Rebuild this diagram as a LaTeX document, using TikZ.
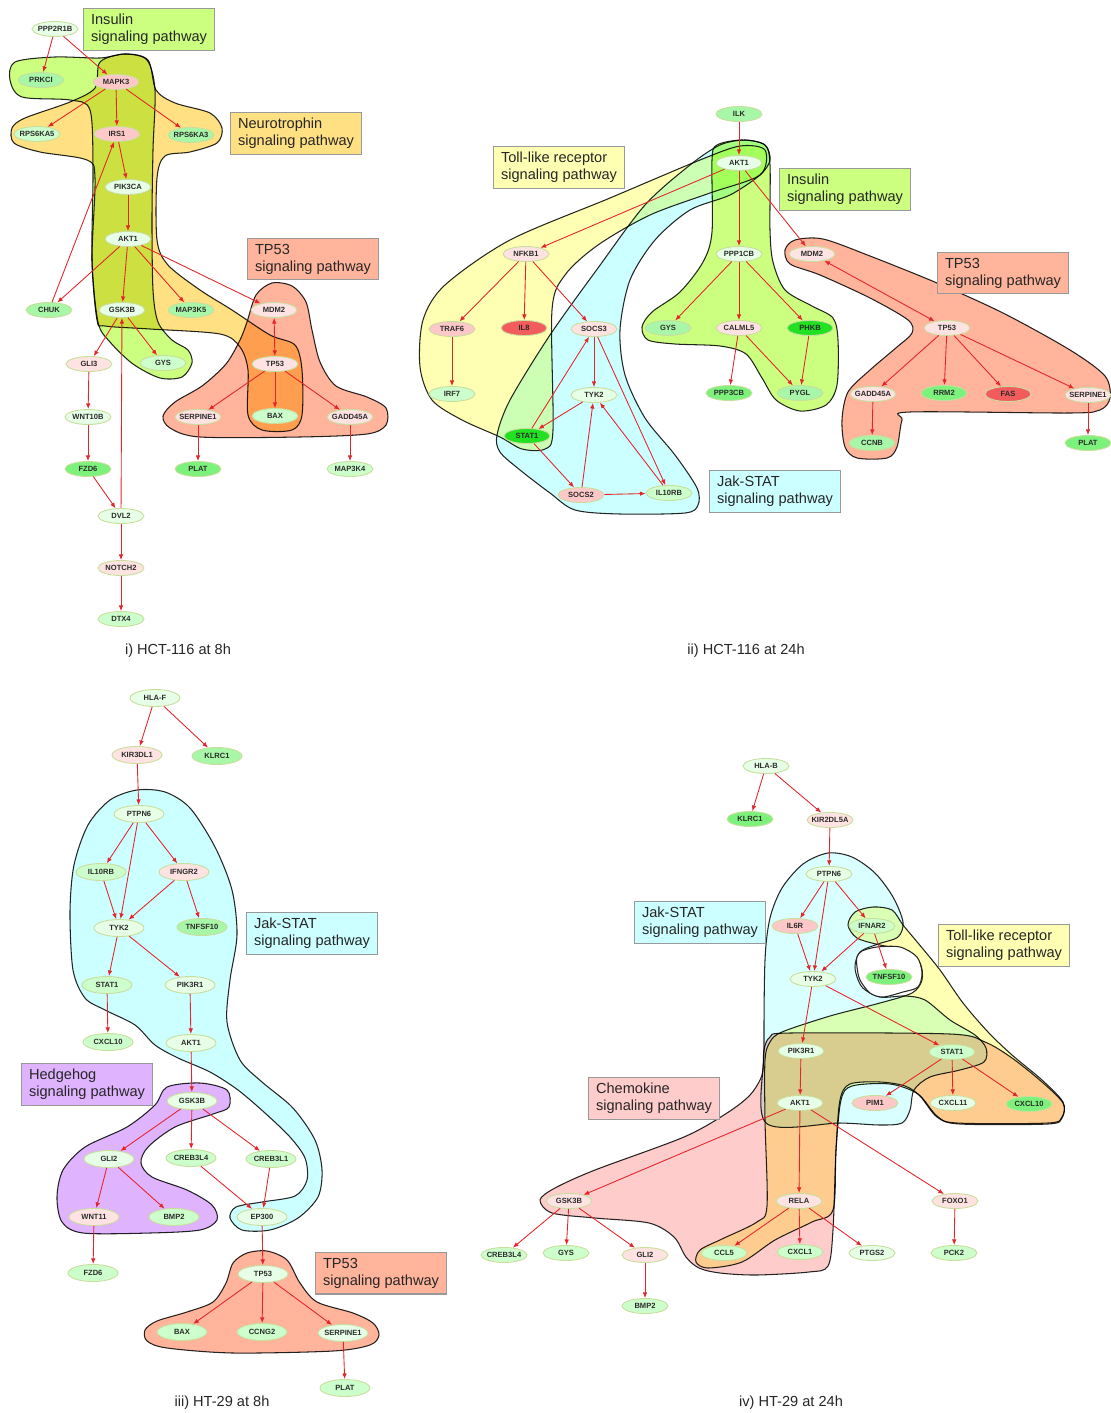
\documentclass[tikz,border=0pt]{standalone}
\usepackage{fontspec}
\setmainfont{Liberation Sans}
\usepackage{tikz}
\usetikzlibrary{shapes.geometric, arrows.meta}
\definecolor{cIns}{HTML}{CCFF80}
\definecolor{cNeu}{HTML}{FFE082}
\definecolor{cTP}{HTML}{FFB49B}
\definecolor{cToll}{HTML}{FFFFB3}
\definecolor{cJak}{HTML}{CCFFFF}
\definecolor{cHh}{HTML}{E0B3FF}
\definecolor{cChe}{HTML}{FFCCCC}
\definecolor{gA}{HTML}{E6FFE6}
\definecolor{gB}{HTML}{CCFFCC}
\definecolor{gC}{HTML}{A8F7A8}
\definecolor{gD}{HTML}{7CF27C}
\definecolor{gE}{HTML}{22E022}
\definecolor{rA}{HTML}{FFE3E3}
\definecolor{rB}{HTML}{FFC8C8}
\definecolor{rC}{HTML}{F25C5C}
\definecolor{nLine}{HTML}{C9DE9C}
\definecolor{nInk}{HTML}{2B2B2B}
\definecolor{eRed}{HTML}{E3262B}
\tikzset{
  gene/.style={ellipse, draw=nLine, line width=0.5pt, minimum width=0.92cm, minimum height=0.3cm,
    inner xsep=-3pt, inner ysep=-1pt, text=nInk, font=\fontsize{4.3}{5}\selectfont\bfseries},
  bgene/.style={gene, minimum width=1.0cm, minimum height=0.34cm},
  rel/.style={->, draw=eRed, line width=0.5pt},
  birel/.style={rel, <->},
  pathway/.style={draw=black!85, line width=0.6pt, blend mode=multiply},
  pathbox/.style={draw=black!40, line width=0.6pt, anchor=north west, minimum width=2.62cm,
    minimum height=0.82cm, inner xsep=4pt, align=left, text=black!85, font=\fontsize{8.3}{9.4}\selectfont},
  caption/.style={font=\fontsize{8.3}{10}\selectfont, text=black!85},
}

\begin{document}
\begin{tikzpicture}[x=0.02cm, y=-0.02cm, >={Latex[length=3.2pt,width=2.6pt]}]
  \useasboundingbox (0,0) rectangle (1110,1413);

  % i) pathway regions
  \draw[pathway, fill=cIns] plot[smooth cycle, tension=0.5] coordinates {(15,62) (55,57) (100,58) (125,54) (147,60)
    (155,90) (153,150) (152,220) (153,290) (158,322) (172,340) (188,350) (192,363) (182,377) (160,378) (133,364)
    (110,342) (98,322) (92,260) (93,170) (90,110) (70,100) (22,97) (10,80)};
  \draw[pathway, fill=cNeu] plot[smooth cycle, tension=0.5] coordinates {(100,62) (125,54) (148,60) (156,90) (175,103)
    (210,113) (222,128) (217,143) (190,152) (165,156) (157,178) (157,240) (168,265) (200,290) (232,310) (270,335)
    (295,345) (302,370) (302,415) (292,430) (262,430) (248,415) (248,370) (240,347) (220,334) (150,329) (105,326)
    (97,320) (92,260) (95,178) (87,160) (40,152) (14,143) (12,128) (25,118) (70,102) (95,88)};
  \draw[pathway, fill=cTP] plot[smooth cycle, tension=0.5] coordinates {(247,322) (256,295) (272,283) (292,286)
    (306,302) (312,330) (320,362) (336,386) (367,397) (386,408) (386,425) (367,434) (300,437) (200,437) (170,428)
    (163,416) (175,402) (202,386) (226,364) (240,340)};

  % ii) pathway regions
  \draw[pathway, fill=cToll] plot[smooth cycle, tension=0.5] coordinates {(765,150) (740,146) (700,160) (610,198)
    (510,240) (445,285) (423,320) (420,367) (432,400) (462,420) (500,437) (522,449) (545,449) (553,430) (552,310)
    (565,275) (598,245) (650,215) (710,193) (760,175)};
  \draw[pathway, fill=cJak] plot[smooth cycle, tension=0.5] coordinates {(720,145) (745,140) (765,145) (770,160)
    (760,175) (730,195) (690,210) (655,240) (630,280) (620,330) (625,375) (645,418) (675,455) (697,488) (698,505)
    (685,513) (620,514) (575,510) (550,493) (520,470) (500,452) (497,435) (510,400) (550,335) (598,268) (645,205)
    (690,165)};
  \draw[pathway, fill=cIns] plot[smooth cycle, tension=0.5] coordinates {(717,145) (742,140) (765,145) (770,165)
    (770,230) (773,262) (785,290) (812,306) (833,318) (838,340) (837,385) (826,405) (800,411) (776,400) (762,378)
    (746,354) (720,346) (675,344) (648,340) (642,327) (652,312) (680,292) (703,262) (712,232) (712,160)};
  \draw[pathway, fill=cTP] plot[smooth cycle, tension=0.5] coordinates {(785,250) (795,240) (823,239) (870,256)
    (937,283) (1003,313) (1070,350) (1105,376) (1110,398) (1100,410) (1070,413) (910,412) (902,420) (897,447)
    (887,458) (857,458) (845,447) (842,420) (848,392) (870,370) (897,347) (912,333) (908,320) (870,298) (820,275)
    (790,264)};

  % iii) pathway regions
  \draw[pathway, fill=cJak] plot[smooth cycle, tension=0.5] coordinates {(137,790) (165,792) (190,808) (215,847)
    (232,890) (237,935) (230,980) (227,1022) (240,1060) (262,1082) (293,1108) (315,1140) (322,1170) (318,1197)
    (298,1218) (270,1230) (242,1230) (230,1218) (236,1207) (262,1202) (295,1196) (307,1180) (305,1158) (290,1137)
    (265,1113) (238,1090) (210,1072) (178,1058) (155,1045) (135,1025) (105,1010) (85,998) (73,970) (70,912)
    (74,865) (88,825) (110,800)};
  \draw[pathway, fill=cHh] plot[smooth cycle, tension=0.5] coordinates {(167,1087) (200,1083) (227,1090) (229,1107)
    (213,1114) (175,1127) (148,1147) (141,1163) (152,1177) (187,1190) (212,1205) (217,1220) (200,1230) (150,1233)
    (83,1233) (62,1222) (57,1197) (63,1170) (85,1147) (127,1127) (155,1105)};
  \draw[pathway, fill=cTP] plot[smooth cycle, tension=0.5] coordinates {(233,1263) (247,1253) (267,1251) (287,1260)
    (300,1283) (317,1302) (353,1313) (373,1323) (379,1335) (370,1345) (333,1351) (233,1353) (167,1348) (147,1341)
    (145,1330) (157,1321) (187,1312) (213,1302) (226,1283)};

  % iv) pathway regions
  \draw[pathway, fill=cChe] plot[smooth cycle, tension=0.5] coordinates {(540,1200) (555,1188) (595,1170) (684,1137)
    (727,1113) (750,1095) (762,1075) (764,1050) (770,1037) (790,1033) (950,1034) (985,1042) (1012,1058) (1042,1082)
    (1063,1103) (1062,1118) (1048,1124) (960,1124) (937,1117) (920,1096) (905,1086) (880,1082) (850,1084) (840,1100)
    (836,1150) (833,1230) (828,1266) (809,1272) (756,1275) (720,1273) (699,1268) (686,1257) (674,1237) (649,1223)
    (595,1218) (552,1213)};
  \draw[pathway, fill=cToll] plot[smooth cycle, tension=0.5] coordinates {(848,925) (855,912) (873,907) (892,910)
    (903,925) (918,943) (940,970) (963,1003) (988,1032) (1012,1055) (1042,1080) (1063,1102) (1062,1117) (1048,1123)
    (957,1123) (937,1116) (918,1094) (890,1084) (852,1086) (841,1100) (836,1150) (833,1210) (812,1222) (775,1240)
    (742,1262) (708,1268) (696,1262) (700,1250) (722,1239) (757,1222) (767,1206) (765,1120) (765,1060) (770,1042)
    (782,1032) (830,1016) (880,1003) (912,993) (922,980) (920,963) (905,950) (880,945) (857,938)};
  \draw[pathway, fill=cJak, fill opacity=0.75] plot[smooth cycle, tension=0.5] coordinates {(766,1123) (764,1050)
    (765,960) (770,918) (782,888) (803,864) (828,853) (852,857) (875,873) (893,897) (903,922) (898,937) (878,944)
    (860,952) (855,968) (862,987) (880,997) (905,996) (925,1000) (950,1020) (975,1035) (986,1048) (984,1062)
    (960,1070) (930,1077) (914,1090) (910,1110) (902,1123) (880,1125) (840,1123)};
  \draw[draw=black!85, line width=0.6pt, fill=white] plot[smooth cycle, tension=0.5] coordinates {(857,957) (862,951)
    (877,947) (900,947) (917,957) (922,973) (918,987) (903,992) (883,997) (870,993) (860,980) (857,967)};

  % i) HCT-116 at 8h
  \node[gene, fill=gA] (aPPP2R1B) at (55,29) {PPP2R1B};
  \node[gene, fill=gC] (aPRKCI) at (41,80) {PRKCI};
  \node[gene, fill=rB] (aMAPK3) at (116,82) {MAPK3};
  \node[gene, fill=gB] (aRPS6KA5) at (37,134) {RPS6KA5};
  \node[gene, fill=rB] (aIRS1) at (117,134) {IRS1};
  \node[gene, fill=gC] (aRPS6KA3) at (191,135) {RPS6KA3};
  \node[gene, fill=gA] (aPIK3CA) at (128,187) {PIK3CA};
  \node[gene, fill=gA] (aAKT1) at (128,239) {AKT1};
  \node[gene, fill=gC] (aCHUK) at (49,310) {CHUK};
  \node[gene, fill=gA] (aGSK3B) at (122,310) {GSK3B};
  \node[gene, fill=gC] (aMAP3K5) at (191,310) {MAP3K5};
  \node[gene, fill=rA] (aMDM2) at (274,310) {MDM2};
  \node[gene, fill=rA] (aGLI3) at (89,364) {GLI3};
  \node[gene, fill=gB] (aGYS) at (163,363) {GYS};
  \node[gene, fill=rA] (aTP53) at (275,364) {TP53};
  \node[gene, fill=gA] (aWNT10B) at (88,417) {WNT10B};
  \node[gene, fill=rA] (aSERPINE1) at (198,417) {SERPINE1};
  \node[gene, fill=gB] (aBAX) at (275,416) {BAX};
  \node[gene, fill=rA] (aGADD45A) at (350,417) {GADD45A};
  \node[gene, fill=gD] (aFZD6) at (88,469) {FZD6};
  \node[gene, fill=gD] (aPLAT) at (198,469) {PLAT};
  \node[gene, fill=gB] (aMAP3K4) at (350,469) {MAP3K4};
  \node[gene, fill=gA] (aDVL2) at (121,516) {DVL2};
  \node[gene, fill=rA] (aNOTCH2) at (121,568) {NOTCH2};
  \node[gene, fill=gB] (aDTX4) at (121,619) {DTX4};
  \draw[rel] (aPPP2R1B) -- (aPRKCI); \draw[rel] (aPPP2R1B) -- (aMAPK3);
  \draw[rel] (aMAPK3) -- (aRPS6KA5); \draw[rel] (aMAPK3) -- (aIRS1); \draw[rel] (aMAPK3) -- (aRPS6KA3);
  \draw[rel] (aIRS1) -- (aPIK3CA); \draw[rel] (aPIK3CA) -- (aAKT1);
  \draw[rel] (aAKT1) -- (aCHUK); \draw[rel] (aAKT1) -- (aGSK3B); \draw[rel] (aAKT1) -- (aMAP3K5);
  \draw[rel] (aAKT1) -- (aMDM2); \draw[rel] (aCHUK) -- (aIRS1);
  \draw[rel] (aGSK3B) -- (aGLI3); \draw[rel] (aGSK3B) -- (aGYS); \draw[rel] (aDVL2) -- (aGSK3B);
  \draw[birel] (aMDM2) -- (aTP53);
  \draw[rel] (aTP53) -- (aSERPINE1); \draw[rel] (aTP53) -- (aBAX); \draw[rel] (aTP53) -- (aGADD45A);
  \draw[rel] (aGLI3) -- (aWNT10B); \draw[rel] (aWNT10B) -- (aFZD6); \draw[rel] (aFZD6) -- (aDVL2);
  \draw[rel] (aSERPINE1) -- (aPLAT); \draw[rel] (aGADD45A) -- (aMAP3K4);
  \draw[rel] (aDVL2) -- (aNOTCH2); \draw[rel] (aNOTCH2) -- (aDTX4);

  % ii) HCT-116 at 24h
  \node[gene, fill=gC] (bILK) at (739,114) {ILK};
  \node[gene, fill=gA] (bAKT1) at (739,163) {AKT1};
  \node[gene, fill=rA] (bNFKB1) at (526,254) {NFKB1};
  \node[gene, fill=gA] (bPPP1CB) at (739,254) {PPP1CB};
  \node[gene, fill=rA] (bMDM2) at (812,254) {MDM2};
  \node[gene, fill=rB] (bTRAF6) at (452,329) {TRAF6};
  \node[gene, fill=rC] (bIL8) at (524,328) {IL8};
  \node[gene, fill=rA] (bSOCS3) at (594,329) {SOCS3};
  \node[gene, fill=gC] (bGYS) at (668,328) {GYS};
  \node[gene, fill=rA] (bCALML5) at (739,328) {CALML5};
  \node[gene, fill=gE] (bPHKB) at (810,328) {PHKB};
  \node[gene, fill=gB] (bIRF7) at (452,394) {IRF7};
  \node[gene, fill=gA] (bTYK2) at (594,395) {TYK2};
  \node[gene, fill=gD] (bPPP3CB) at (729,393) {PPP3CB};
  \node[gene, fill=gC] (bPYGL) at (800,393) {PYGL};
  \node[gene, fill=gE] (bSTAT1) at (527,436) {STAT1};
  \node[gene, fill=rB] (bSOCS2) at (581,495) {SOCS2};
  \node[gene, fill=gB] (bIL10RB) at (669,493) {IL10RB};
  \node[gene, fill=rA] (bTP53) at (947,328) {TP53};
  \node[gene, fill=rA] (bGADD45A) at (873,394) {GADD45A};
  \node[gene, fill=gD] (bRRM2) at (944,393) {RRM2};
  \node[gene, fill=rC] (bFAS) at (1008,394) {FAS};
  \node[gene, fill=rA] (bSERPINE1) at (1088,395) {SERPINE1};
  \node[gene, fill=gC] (bCCNB) at (872,443) {CCNB};
  \node[gene, fill=gD] (bPLAT) at (1088,443) {PLAT};
  \draw[rel] (bILK) -- (bAKT1);
  \draw[rel] (bAKT1) -- (bNFKB1); \draw[rel] (bAKT1) -- (bPPP1CB); \draw[rel] (bAKT1) -- (bMDM2);
  \draw[rel] (bNFKB1) -- (bTRAF6); \draw[rel] (bNFKB1) -- (bIL8); \draw[rel] (bNFKB1) -- (bSOCS3);
  \draw[rel] (bTRAF6) -- (bIRF7);
  \draw[rel] (bSOCS3) -- (bTYK2); \draw[rel] (bSOCS3) -- (bIL10RB);
  \draw[rel] (bTYK2) -- (bSTAT1); \draw[rel] (bSTAT1) -- (bSOCS3); \draw[rel] (bSTAT1) -- (bSOCS2);
  \draw[rel] (bSOCS2) -- (bTYK2); \draw[rel] (bSOCS2) -- (bIL10RB); \draw[rel] (bIL10RB) -- (bTYK2);
  \draw[rel] (bPPP1CB) -- (bGYS); \draw[rel] (bPPP1CB) -- (bCALML5); \draw[rel] (bPPP1CB) -- (bPHKB);
  \draw[rel] (bCALML5) -- (bPPP3CB); \draw[rel] (bCALML5) -- (bPYGL); \draw[rel] (bPHKB) -- (bPYGL);
  \draw[birel] (bMDM2) -- (bTP53);
  \draw[rel] (bTP53) -- (bGADD45A); \draw[rel] (bTP53) -- (bRRM2); \draw[rel] (bTP53) -- (bFAS);
  \draw[rel] (bTP53) -- (bSERPINE1);
  \draw[rel] (bGADD45A) -- (bCCNB); \draw[rel] (bSERPINE1) -- (bPLAT);

  % iii) HT-29 at 8h
  \node[bgene, fill=gA] (cHLAF) at (155,698) {HLA-F};
  \node[bgene, fill=rA] (cKIR3DL1) at (137,755) {KIR3DL1};
  \node[bgene, fill=gC] (cKLRC1) at (217,756) {KLRC1};
  \node[bgene, fill=gA] (cPTPN6) at (139,814) {PTPN6};
  \node[bgene, fill=gB] (cIL10RB) at (101,872) {IL10RB};
  \node[bgene, fill=rA] (cIFNGR2) at (184,872) {IFNGR2};
  \node[bgene, fill=gA] (cTYK2) at (119,928) {TYK2};
  \node[bgene, fill=gC] (cTNFSF10) at (202,927) {TNFSF10};
  \node[bgene, fill=gB] (cSTAT1) at (107,985) {STAT1};
  \node[bgene, fill=gA] (cPIK3R1) at (190,985) {PIK3R1};
  \node[bgene, fill=gB] (cCXCL10) at (108,1042) {CXCL10};
  \node[bgene, fill=gA] (cAKT1) at (191,1043) {AKT1};
  \node[bgene, fill=gA] (cGSK3B) at (192,1101) {GSK3B};
  \node[bgene, fill=gA] (cGLI2) at (109,1159) {GLI2};
  \node[bgene, fill=gB] (cCREB3L4) at (191,1158) {CREB3L4};
  \node[bgene, fill=gB] (cCREB3L1) at (271,1159) {CREB3L1};
  \node[bgene, fill=rA] (cWNT11) at (94,1217) {WNT11};
  \node[bgene, fill=gB] (cBMP2) at (174,1217) {BMP2};
  \node[bgene, fill=gA] (cEP300) at (262,1217) {EP300};
  \node[bgene, fill=gB] (cFZD6) at (93,1273) {FZD6};
  \node[bgene, fill=gA] (cTP53) at (263,1274) {TP53};
  \node[bgene, fill=gB] (cBAX) at (182,1332) {BAX};
  \node[bgene, fill=gB] (cCCNG2) at (262,1332) {CCNG2};
  \node[bgene, fill=gA] (cSERPINE1) at (343,1333) {SERPINE1};
  \node[bgene, fill=gB] (cPLAT) at (345,1388) {PLAT};
  \draw[rel] (cHLAF) -- (cKIR3DL1); \draw[rel] (cHLAF) -- (cKLRC1); \draw[rel] (cKIR3DL1) -- (cPTPN6);
  \draw[rel] (cPTPN6) -- (cIL10RB); \draw[rel] (cPTPN6) -- (cTYK2); \draw[rel] (cPTPN6) -- (cIFNGR2);
  \draw[rel] (cIL10RB) -- (cTYK2); \draw[rel] (cIFNGR2) -- (cTYK2); \draw[rel] (cIFNGR2) -- (cTNFSF10);
  \draw[rel] (cTYK2) -- (cSTAT1); \draw[rel] (cTYK2) -- (cPIK3R1);
  \draw[rel] (cSTAT1) -- (cCXCL10); \draw[rel] (cPIK3R1) -- (cAKT1); \draw[rel] (cAKT1) -- (cGSK3B);
  \draw[rel] (cGSK3B) -- (cGLI2); \draw[rel] (cGSK3B) -- (cCREB3L4); \draw[rel] (cGSK3B) -- (cCREB3L1);
  \draw[rel] (cGLI2) -- (cWNT11); \draw[rel] (cGLI2) -- (cBMP2);
  \draw[rel] (cCREB3L4) -- (cEP300); \draw[rel] (cCREB3L1) -- (cEP300);
  \draw[rel] (cWNT11) -- (cFZD6); \draw[rel] (cEP300) -- (cTP53);
  \draw[rel] (cTP53) -- (cBAX); \draw[rel] (cTP53) -- (cCCNG2); \draw[rel] (cTP53) -- (cSERPINE1);
  \draw[rel] (cSERPINE1) -- (cPLAT);

  % iv) HT-29 at 24h
  \node[gene, fill=gA] (dHLAB) at (766,766) {HLA-B};
  \node[gene, fill=gD] (dKLRC1) at (750,819) {KLRC1};
  \node[gene, fill=rA] (dKIR2DL5A) at (830,820) {KIR2DL5A};
  \node[gene, fill=gA] (dPTPN6) at (829,874) {PTPN6};
  \node[gene, fill=rB] (dIL6R) at (795,926) {IL6R};
  \node[gene, fill=gB] (dIFNAR2) at (872,926) {IFNAR2};
  \node[gene, fill=gA] (dTYK2) at (813,979) {TYK2};
  \node[gene, fill=gD] (dTNFSF10) at (889,977) {TNFSF10};
  \node[gene, fill=gA] (dPIK3R1) at (801,1051) {PIK3R1};
  \node[gene, fill=gB] (dSTAT1) at (952,1052) {STAT1};
  \node[gene, fill=gA] (dAKT1) at (800,1103) {AKT1};
  \node[gene, fill=rB] (dPIM1) at (875,1103) {PIM1};
  \node[gene, fill=gA] (dCXCL11) at (953,1103) {CXCL11};
  \node[gene, fill=gD] (dCXCL10) at (1029,1104) {CXCL10};
  \node[gene, fill=rA] (dGSK3B) at (569,1201) {GSK3B};
  \node[gene, fill=rA] (dRELA) at (799,1201) {RELA};
  \node[gene, fill=rA] (dFOXO1) at (955,1201) {FOXO1};
  \node[gene, fill=gB] (dCREB3L4) at (504,1255) {CREB3L4};
  \node[gene, fill=gB] (dGYS) at (566,1253) {GYS};
  \node[gene, fill=rA] (dGLI2) at (645,1255) {GLI2};
  \node[gene, fill=gB] (dCCL5) at (724,1253) {CCL5};
  \node[gene, fill=gB] (dCXCL1) at (800,1252) {CXCL1};
  \node[gene, fill=gA] (dPTGS2) at (872,1253) {PTGS2};
  \node[gene, fill=gB] (dPCK2) at (954,1253) {PCK2};
  \node[gene, fill=gB] (dBMP2) at (645,1306) {BMP2};
  \draw[rel] (dHLAB) -- (dKLRC1); \draw[rel] (dHLAB) -- (dKIR2DL5A); \draw[rel] (dKIR2DL5A) -- (dPTPN6);
  \draw[rel] (dPTPN6) -- (dIL6R); \draw[rel] (dPTPN6) -- (dTYK2); \draw[rel] (dPTPN6) -- (dIFNAR2);
  \draw[rel] (dIL6R) -- (dTYK2); \draw[rel] (dIFNAR2) -- (dTYK2); \draw[rel] (dIFNAR2) -- (dTNFSF10);
  \draw[rel] (dTYK2) -- (dPIK3R1); \draw[rel] (dTYK2) -- (dSTAT1); \draw[rel] (dPIK3R1) -- (dAKT1);
  \draw[rel] (dSTAT1) -- (dPIM1); \draw[rel] (dSTAT1) -- (dCXCL11); \draw[rel] (dSTAT1) -- (dCXCL10);
  \draw[rel] (dAKT1) -- (dGSK3B); \draw[rel] (dAKT1) -- (dRELA); \draw[rel] (dAKT1) -- (dFOXO1);
  \draw[rel] (dGSK3B) -- (dCREB3L4); \draw[rel] (dGSK3B) -- (dGYS); \draw[rel] (dGSK3B) -- (dGLI2);
  \draw[rel] (dGLI2) -- (dBMP2);
  \draw[rel] (dRELA) -- (dCCL5); \draw[rel] (dRELA) -- (dCXCL1); \draw[rel] (dRELA) -- (dPTGS2);
  \draw[rel] (dFOXO1) -- (dPCK2);

  % pathway names
  \node[pathbox, fill=cIns] (aInsLbl) at (83,8) {Insulin\\signaling pathway};
  \node[pathbox, fill=cNeu] (aNeuLbl) at (230,112) {Neurotrophin\\signaling pathway};
  \node[pathbox, fill=cTP] (aTPLbl) at (247,238) {TP53\\signaling pathway};
  \node[pathbox, fill=cToll] (bTollLbl) at (493,146) {Toll-like receptor\\signaling pathway};
  \node[pathbox, fill=cIns] (bInsLbl) at (779,168) {Insulin\\signaling pathway};
  \node[pathbox, fill=cJak] (bJakLbl) at (709,470) {Jak-STAT\\signaling pathway};
  \node[pathbox, fill=cTP] (bTPLbl) at (937,252) {TP53\\signaling pathway};
  \node[pathbox, fill=cJak] (cJakLbl) at (246,912) {Jak-STAT\\signaling pathway};
  \node[pathbox, fill=cHh] (cHhLbl) at (21,1063) {Hedgehog\\signaling pathway};
  \node[pathbox, fill=cTP] (cTPLbl) at (315,1252) {TP53\\signaling pathway};
  \node[pathbox, fill=cJak] (dJakLbl) at (634,901) {Jak-STAT\\signaling pathway};
  \node[pathbox, fill=cToll] (dTollLbl) at (938,924) {Toll-like receptor\\signaling pathway};
  \node[pathbox, fill=cChe] (dCheLbl) at (588,1077) {Chemokine\\signaling pathway};

  \node[caption] (capI) at (178,651) {i) HCT-116 at 8h};
  \node[caption] (capII) at (746,651) {ii) HCT-116 at 24h};
  \node[caption] (capIII) at (222,1403) {iii) HT-29 at 8h};
  \node[caption] (capIV) at (791,1403) {iv) HT-29 at 24h};
\end{tikzpicture}
\end{document}
